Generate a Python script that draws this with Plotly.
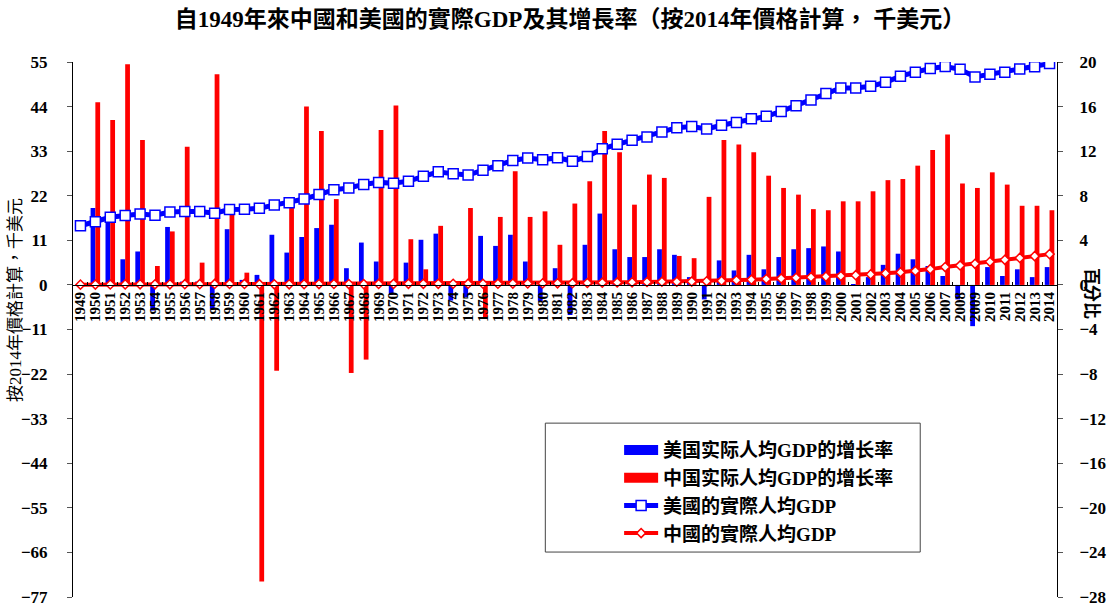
import plotly.graph_objects as go

years = [str(y) for y in range(1949, 2015)]

# 美国实际人均GDP的增长率 (%), 1949 has no value
us_growth = [None,
    6.9, 6.2, 2.3, 3.0, -2.3, 5.2, 0.3, 0.3, -2.2, 5.0,
    0.45, 0.9, 4.5, 2.9, 4.3, 5.1, 5.4, 1.5, 3.8, 2.1,
    -0.9, 2.0, 4.05, 4.6, -1.4, -1.1, 4.4, 3.5, 4.5, 2.1,
    -1.5, 1.5, -2.7, 3.6, 6.4, 3.2, 2.5, 2.5, 3.2, 2.7,
    0.7, -1.3, 2.2, 1.3, 2.7, 1.4, 2.5, 3.2, 3.3, 3.45,
    3.0, 0.05, 0.7, 1.8, 2.8, 2.3, 1.7, 0.8, -1.3, -3.7,
    1.6, 0.8, 1.4, 0.7, 1.6]

# 中国实际人均GDP的增长率 (%)
cn_growth = [None,
    16.4, 14.8, 19.8, 13.0, 1.7, 4.8, 12.4, 2.0, 18.9, 6.5,
    1.1, -26.6, -7.7, 7.2, 16.0, 13.8, 7.7, -7.9, -6.7, 13.9,
    16.1, 4.1, 1.4, 5.3, 0.2, 6.9, -2.9, 6.1, 10.2, 6.1,
    6.6, 3.6, 7.3, 9.3, 13.8, 11.9, 7.2, 9.9, 9.6, 2.6,
    2.4, 7.9, 13.0, 12.6, 11.9, 9.8, 8.7, 8.1, 6.8, 6.7,
    7.5, 7.5, 8.4, 9.4, 9.5, 10.7, 12.1, 13.5, 9.1, 8.7,
    10.1, 9.0, 7.1, 7.1, 6.7]

# 美國的實際人均GDP (千美元, 2014年價格)
us_gdp = [14.6,
    15.6, 16.7, 17.1, 17.5, 17.2, 18.0, 18.1, 18.1, 17.7, 18.6,
    18.7, 18.9, 19.7, 20.3, 21.2, 22.3, 23.5, 23.9, 24.8, 25.3,
    25.1, 25.6, 26.8, 27.9, 27.4, 27.1, 28.3, 29.4, 30.7, 31.3,
    30.9, 31.4, 30.5, 31.7, 33.6, 34.7, 35.7, 36.5, 37.7, 38.8,
    39.1, 38.5, 39.4, 40.1, 41.0, 41.6, 42.8, 44.2, 45.6, 47.2,
    48.6, 48.6, 49.0, 50.0, 51.5, 52.5, 53.4, 53.9, 53.2, 51.3,
    52.0, 52.5, 53.3, 53.8, 54.6]

# 中國的實際人均GDP (千美元, 2014年價格)
cn_gdp = [0.07,
    0.085, 0.10, 0.13, 0.15, 0.15, 0.16, 0.19, 0.20, 0.24, 0.23,
    0.23, 0.17, 0.15, 0.16, 0.19, 0.22, 0.24, 0.21, 0.20, 0.23,
    0.26, 0.27, 0.27, 0.28, 0.29, 0.30, 0.29, 0.31, 0.34, 0.36,
    0.38, 0.40, 0.43, 0.47, 0.54, 0.61, 0.65, 0.72, 0.78, 0.80,
    0.83, 0.90, 1.0, 1.15, 1.3, 1.45, 1.6, 1.75, 1.9, 2.05,
    2.2, 2.4, 2.6, 2.85, 3.1, 3.45, 3.9, 4.4, 4.8, 5.2,
    5.7, 6.2, 6.65, 7.1, 7.6]

FONT = "Liberation Serif, Noto Sans CJK TC, serif"
BLUE = "#0000FF"
RED = "#FF0000"

fig = go.Figure()
fig.add_trace(go.Bar(x=years, y=us_growth, name="美国实际人均GDP的增长率",
                     marker=dict(color=BLUE, line=dict(width=0)), yaxis="y",
                     showlegend=False))
fig.add_trace(go.Bar(x=years, y=cn_growth, name="中国实际人均GDP的增长率",
                     marker=dict(color=RED, line=dict(width=0)), yaxis="y",
                     showlegend=False))
# legend proxies for the bar series (wide colour blocks as in the original)
fig.add_trace(go.Scatter(x=[None], y=[None], mode="lines", name="美国实际人均GDP的增长率",
                         line=dict(color=BLUE, width=10), yaxis="y", legendgroup="a"))
fig.add_trace(go.Scatter(x=[None], y=[None], mode="lines", name="中国实际人均GDP的增长率",
                         line=dict(color=RED, width=10), yaxis="y", legendgroup="b"))
fig.add_trace(go.Scatter(x=years, y=us_gdp, name="美國的實際人均GDP", mode="lines+markers",
                         line=dict(color=BLUE, width=5),
                         marker=dict(symbol="square", size=10, color="white",
                                     line=dict(color=BLUE, width=1.5)),
                         yaxis="y2", legendgroup="c"))
fig.add_trace(go.Scatter(x=years, y=cn_gdp, name="中國的實際人均GDP", mode="lines+markers",
                         line=dict(color=RED, width=4),
                         marker=dict(symbol="diamond", size=7, color="white",
                                     line=dict(color=RED, width=1.5)),
                         yaxis="y2", legendgroup="d"))

fig.update_layout(
    width=1108, height=608,
    margin=dict(l=73, r=51, t=62, b=11, autoexpand=False),
    paper_bgcolor="white", plot_bgcolor="white",
    font=dict(family=FONT, color="black"),
    barmode="group", bargap=0.36, bargroupgap=0,
    title=dict(text="<b>自1949年來中國和美國的實際GDP及其增長率（按2014年價格計算， 千美元）</b>",
               x=570 / 1108, xref="container", xanchor="center",
               y=1 - 19 / 608, yref="container", yanchor="middle",
               font=dict(size=23, family=FONT)),
    xaxis=dict(type="category", range=[-0.5, 65.5], anchor="free", position=28 / 48,
               tickmode="array", tickvals=years, ticktext=years,
               tickangle=-90, showline=True, linecolor="black", linewidth=1,
               ticks="inside", ticklen=3, tickcolor="black", tickson="boundaries",
               tickfont=dict(size=15, family=FONT, weight="bold"),
               showgrid=False, zeroline=False, automargin=False),
    yaxis=dict(side="right", range=[-28, 20], dtick=4, tick0=0,
               showline=True, linecolor="black", linewidth=1,
               ticks="outside", ticklen=5, tickcolor="#555555",
               ticklabelstandoff=13,
               tickfont=dict(size=17, family=FONT, weight="bold"),
               showgrid=False, zeroline=False, automargin=False),
    yaxis2=dict(side="left", overlaying="y", range=[-77, 55], dtick=11, tick0=0,
                showline=True, linecolor="black", linewidth=1,
                ticks="outside", ticklen=5, tickcolor="#555555",
                ticklabelstandoff=16,
                tickfont=dict(size=17, family=FONT, weight="bold"),
                showgrid=False, zeroline=False, automargin=False),
    legend=dict(x=0.555, y=0.31, xanchor="left", yanchor="top",
                bgcolor="rgba(0,0,0,0)", borderwidth=0,
                font=dict(size=19, family=FONT, weight="bold"),
                tracegroupgap=9, traceorder="normal", itemwidth=34),
    showlegend=True,
    shapes=[dict(type="rect", xref="paper", yref="paper",
                 x0=0.48, x1=0.861, y0=0.084, y1=0.325,
                 line=dict(color="#444444", width=1), fillcolor="white", layer="below")],
    annotations=[
        dict(text="按2014年價格計算，千美元", xref="paper", yref="paper",
             x=-0.059, y=0.555, xanchor="center", yanchor="middle",
             textangle=-90, showarrow=False,
             font=dict(size=17, family=FONT)),
        dict(text="<b>百分比</b>", xref="paper", yref="paper",
             x=1.0356, y=0.568, xanchor="center", yanchor="middle",
             textangle=90, showarrow=False,
             font=dict(size=17, family=FONT)),
    ],
)

fig.write_html("out.html",
               config={"displayModeBar": False},
               post_script="document.body.style.margin='0px';"
                           "document.body.style.overflow='hidden';")
